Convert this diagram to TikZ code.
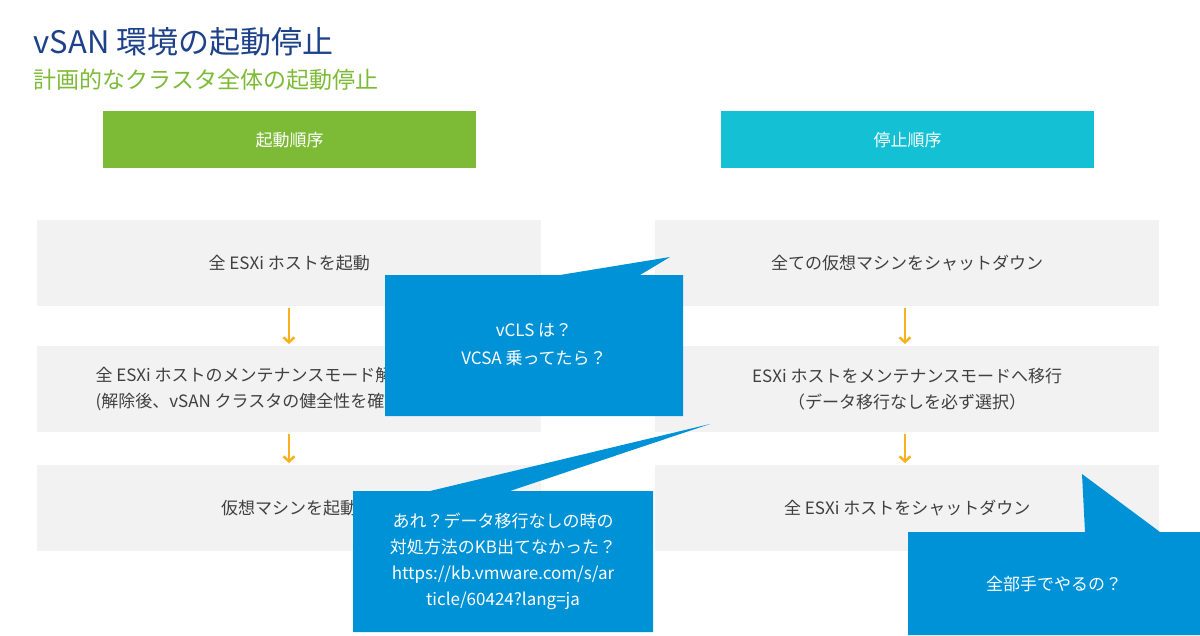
\documentclass[tikz,border=0pt]{standalone}
\usepackage{fontspec}
\usetikzlibrary{arrows.meta}
\setmainfont{Noto Sans CJK JP}
\definecolor{gbox}{HTML}{F2F2F2}
\definecolor{grn}{HTML}{7DBB37}
\definecolor{cyn}{HTML}{13C0D4}
\definecolor{blu}{HTML}{0092D6}
\definecolor{ttl}{HTML}{1D428A}
\definecolor{org}{HTML}{F9B21D}
\begin{document}
\begin{tikzpicture}[x=1pt,y=-1pt,
 box/.style={fill=gbox,draw=none,minimum width=504pt,minimum height=86pt,anchor=north west,font=\fontsize{17}{26}\selectfont,align=center,text=black!75},
 head/.style={draw=none,minimum width=373pt,minimum height=57pt,anchor=north west,text=white,font=\fontsize{17}{20}\selectfont},
 arr/.style={draw=org,line width=2.5pt,-{Straight Barb[length=5pt,width=11pt]}},
 call/.style={fill=blu,draw=none},
 ct/.style={text=white,font=\fontsize{17}{28}\selectfont,align=center}]
\useasboundingbox (0,0) rectangle (1200,635);
\fill[white] (0,0) rectangle (1200,635);
\node[anchor=west,text=ttl,font=\fontsize{31}{34}\selectfont] (t) at (30,42) {vSAN 環境の起動停止};
\node[anchor=west,text=grn,font=\fontsize{23}{26}\selectfont] (st) at (30,80) {計画的なクラスタ全体の起動停止};
\node[head,fill=grn] (h1) at (103,111) {起動順序};
\node[head,fill=cyn] (h2) at (721,111) {停止順序};
\node[box] (l1) at (37,220) {全 ESXi ホストを起動};
\node[box] (l2) at (37,346) {};
\node[anchor=west,font=\fontsize{17}{26}\selectfont,align=left,text=black!75] (l2t) at (92,389) {全 ESXi ホストのメンテナンスモード解除\\(解除後、vSAN クラスタの健全性を確認)};
\node[box] (l3) at (37,465) {仮想マシンを起動};
\node[box] (r1) at (655,220) {全ての仮想マシンをシャットダウン};
\node[box] (r2) at (655,346) {ESXi ホストをメンテナンスモードへ移行\\（データ移行なしを必ず選択）};
\node[box] (r3) at (655,465) {全 ESXi ホストをシャットダウン};
\draw[arr] (289,308) -- (289,344);
\draw[arr] (289,434) -- (289,463);
\draw[arr] (905,308) -- (905,344);
\draw[arr] (905,434) -- (905,463);
\fill[call] (385,275) -- (560,275) -- (670,257) -- (640,275) -- (683,275) -- (683,416) -- (385,416) -- cycle;
\node[ct] (c1) at (534,345) {vCLS は？\\VCSA 乗ってたら？};
\fill[call] (353,491) -- (430,491) -- (710,424) -- (510,491) -- (653,491) -- (653,632) -- (353,632) -- cycle;
\node[ct,font=\fontsize{17}{26}\selectfont] (c2) at (503,561) {あれ？データ移行なしの時の\\対処方法のKB出てなかった？\\https://kb.vmware.com/s/ar\\ticle/60424?lang=ja};
\fill[call] (908,532) -- (1085,532) -- (1082,474) -- (1160,532) -- (1200,532) -- (1200,635) -- (908,635) -- cycle;
\node[ct] (c3) at (1054,584) {全部手でやるの？};
\end{tikzpicture}
\end{document}
